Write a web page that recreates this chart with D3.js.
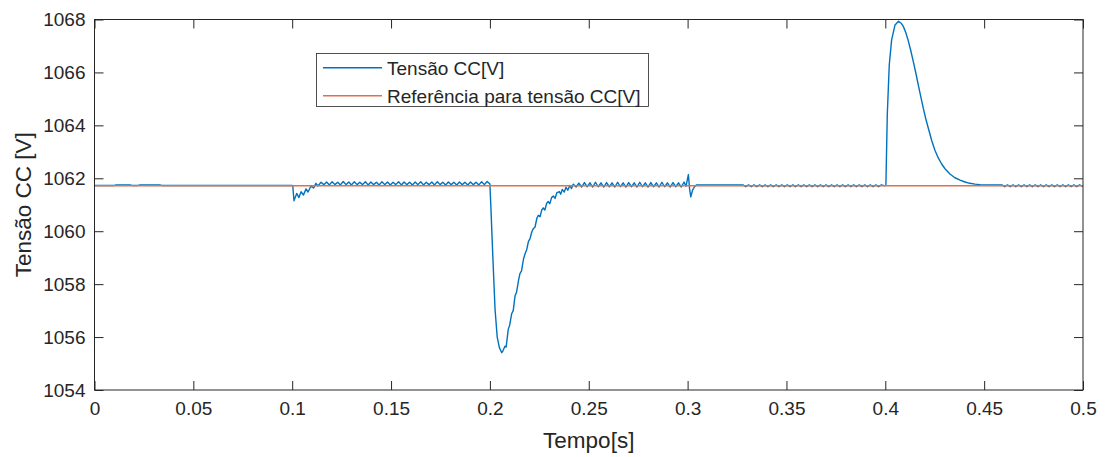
<!DOCTYPE html>
<html lang="pt">
<head>
<meta charset="UTF-8">
<title>Tensão CC</title>
<script src="https://d3js.org/d3.v7.min.js"></script>
<style>
  body { margin: 0; background: #fff; }
  text { font-family: "Liberation Sans", Arial, sans-serif; fill: #262626; }
</style>
</head>
<body>
<svg id="grafico" width="1107" height="457"></svg>
<script>
// eixos
const xTicks = [0, 0.05, 0.1, 0.15, 0.2, 0.25, 0.3, 0.35, 0.4, 0.45, 0.5];
const yTicks = [1054, 1056, 1058, 1060, 1062, 1064, 1066, 1068];

// referencia (constante)
const referencia = [[0, 1061.72], [0.5, 1061.72]];

// tensao CC medida, por trechos [tempo, tensao]
const trecho0 = [[0, 1061.73], [0.010, 1061.73], [0.011, 1061.745], [0.018, 1061.745], [0.019, 1061.73],
  [0.022, 1061.73], [0.023, 1061.745], [0.033, 1061.745], [0.034, 1061.73], [0.1, 1061.73]];

const trecho1 = [[0.1000, 1061.73], [0.1003, 1061.70], [0.1009, 1061.15], [0.1023, 1061.43], [0.1034, 1061.27],
  [0.1045, 1061.49], [0.1057, 1061.37], [0.1070, 1061.60], [0.1080, 1061.48], [0.1095, 1061.71],
  [0.1108, 1061.63], [0.1120, 1061.81], [0.1130, 1061.71], [0.1146, 1061.85],
  [0.1160, 1061.76], [0.1174, 1061.86], [0.1188, 1061.75], [0.1202, 1061.87], [0.1216, 1061.76],
  [0.1230, 1061.85], [0.1244, 1061.75], [0.1258, 1061.88], [0.1272, 1061.76], [0.1286, 1061.86],
  [0.1300, 1061.75], [0.1314, 1061.87], [0.1328, 1061.76], [0.1342, 1061.85], [0.1356, 1061.76],
  [0.1370, 1061.87], [0.1384, 1061.75], [0.1398, 1061.86], [0.1412, 1061.76], [0.1426, 1061.85],
  [0.1440, 1061.75], [0.1454, 1061.87], [0.1468, 1061.76], [0.1482, 1061.86], [0.1496, 1061.75],
  [0.1510, 1061.85], [0.1524, 1061.76], [0.1538, 1061.87], [0.1552, 1061.75], [0.1566, 1061.86],
  [0.1580, 1061.76], [0.1594, 1061.85], [0.1608, 1061.75], [0.1622, 1061.86], [0.1636, 1061.76],
  [0.1650, 1061.87], [0.1664, 1061.75], [0.1678, 1061.85], [0.1692, 1061.76], [0.1706, 1061.86],
  [0.1720, 1061.75], [0.1734, 1061.87], [0.1748, 1061.76], [0.1762, 1061.85], [0.1776, 1061.75],
  [0.1790, 1061.86], [0.1804, 1061.76], [0.1818, 1061.85], [0.1832, 1061.75], [0.1846, 1061.86],
  [0.1860, 1061.76], [0.1874, 1061.85], [0.1888, 1061.75], [0.1902, 1061.86], [0.1916, 1061.76],
  [0.1930, 1061.85], [0.1944, 1061.75], [0.1958, 1061.87], [0.1972, 1061.76], [0.1986, 1061.88],
  [0.2000, 1061.78]];

const trecho2 = [[0.2005, 1060.90], [0.2014, 1059.20], [0.2026, 1057.05], [0.2037, 1056.00], [0.2048, 1055.60],
  [0.2060, 1055.41], [0.2066, 1055.48], [0.2076, 1055.65], [0.2082, 1055.62], [0.2093, 1056.30],
  [0.2100, 1056.45], [0.2110, 1056.88], [0.2118, 1057.00], [0.2127, 1057.55], [0.2135, 1057.70],
  [0.2145, 1058.15], [0.2152, 1058.40], [0.2160, 1058.50], [0.2170, 1058.95], [0.2178, 1059.15],
  [0.2186, 1059.30], [0.2195, 1059.62], [0.2203, 1059.72], [0.2212, 1059.98], [0.2220, 1060.10],
  [0.2228, 1060.15], [0.2238, 1060.50], [0.2245, 1060.60], [0.2254, 1060.55], [0.2262, 1060.80],
  [0.2270, 1060.88], [0.2278, 1060.80], [0.2287, 1061.05], [0.2295, 1061.12], [0.2303, 1061.04],
  [0.2312, 1061.27], [0.2321, 1061.33], [0.2330, 1061.24], [0.2338, 1061.45], [0.2351, 1061.50],
  [0.2358, 1061.40], [0.2366, 1061.58], [0.2376, 1061.48], [0.2385, 1061.66], [0.2394, 1061.55],
  [0.2404, 1061.73], [0.2413, 1061.61], [0.2422, 1061.78]];

const trecho3 = [[0.2436, 1061.67], [0.2450, 1061.82], [0.2464, 1061.67], [0.2478, 1061.84], [0.2492, 1061.68],
  [0.2506, 1061.83], [0.2520, 1061.67], [0.2534, 1061.85], [0.2548, 1061.68], [0.2562, 1061.83],
  [0.2576, 1061.67], [0.2590, 1061.84], [0.2604, 1061.68], [0.2618, 1061.83], [0.2632, 1061.67],
  [0.2646, 1061.85], [0.2660, 1061.68], [0.2674, 1061.83], [0.2688, 1061.67], [0.2702, 1061.84],
  [0.2716, 1061.68], [0.2730, 1061.83], [0.2744, 1061.67], [0.2758, 1061.85], [0.2772, 1061.68],
  [0.2786, 1061.83], [0.2800, 1061.67], [0.2814, 1061.84], [0.2828, 1061.68], [0.2842, 1061.83],
  [0.2856, 1061.67], [0.2870, 1061.85], [0.2884, 1061.68], [0.2898, 1061.83], [0.2912, 1061.67],
  [0.2926, 1061.84], [0.2940, 1061.68], [0.2954, 1061.83], [0.2968, 1061.67], [0.2982, 1061.86],
  [0.2992, 1061.70], [0.3004, 1062.14], [0.3010, 1061.60], [0.3016, 1061.30], [0.3025, 1061.55],
  [0.3035, 1061.68], [0.3046, 1061.75], [0.3280, 1061.75]];

const trecho4 = [[0.3294, 1061.68], [0.3308, 1061.75], [0.3322, 1061.68], [0.3336, 1061.75], [0.3350, 1061.68],
  [0.3364, 1061.75], [0.3378, 1061.68], [0.3392, 1061.75], [0.3406, 1061.68], [0.3420, 1061.75],
  [0.3434, 1061.68], [0.3448, 1061.75], [0.3462, 1061.68], [0.3476, 1061.75], [0.3490, 1061.68],
  [0.3504, 1061.75], [0.3518, 1061.68], [0.3532, 1061.75], [0.3546, 1061.68], [0.3560, 1061.75],
  [0.3574, 1061.68], [0.3588, 1061.75], [0.3602, 1061.68], [0.3616, 1061.75], [0.3630, 1061.68],
  [0.3644, 1061.75], [0.3658, 1061.68], [0.3672, 1061.75], [0.3686, 1061.68], [0.3700, 1061.75],
  [0.3714, 1061.68], [0.3728, 1061.75], [0.3742, 1061.68], [0.3756, 1061.75], [0.3770, 1061.68],
  [0.3784, 1061.75], [0.3798, 1061.68], [0.3812, 1061.75], [0.3826, 1061.68], [0.3840, 1061.75],
  [0.3854, 1061.68], [0.3868, 1061.75], [0.3882, 1061.68], [0.3896, 1061.75], [0.3910, 1061.68],
  [0.3924, 1061.75], [0.3938, 1061.68], [0.3952, 1061.75], [0.3966, 1061.68], [0.3980, 1061.75],
  [0.3994, 1061.72]];

const trecho5 = [[0.4003, 1061.73], [0.4010, 1064.39], [0.4020, 1066.28], [0.4032, 1067.23], [0.4049, 1067.79],
  [0.4067, 1067.93], [0.4080, 1067.86], [0.4091, 1067.74], [0.4104, 1067.50], [0.4116, 1067.20],
  [0.4129, 1066.82], [0.4142, 1066.40], [0.4155, 1065.96], [0.4167, 1065.52], [0.4180, 1065.07],
  [0.4192, 1064.65], [0.4205, 1064.24], [0.4218, 1063.88], [0.4235, 1063.42], [0.4251, 1063.06],
  [0.4268, 1062.77], [0.4285, 1062.54], [0.4302, 1062.36], [0.4327, 1062.16], [0.4352, 1062.02],
  [0.4378, 1061.93], [0.4403, 1061.86], [0.4428, 1061.81], [0.4454, 1061.78], [0.4479, 1061.76],
  [0.4520, 1061.75], [0.4590, 1061.75]];

const trecho6 = [[0.4604, 1061.68], [0.4618, 1061.75], [0.4632, 1061.68], [0.4646, 1061.75], [0.4660, 1061.68],
  [0.4674, 1061.75], [0.4688, 1061.68], [0.4702, 1061.75], [0.4716, 1061.68], [0.4730, 1061.75],
  [0.4744, 1061.68], [0.4758, 1061.75], [0.4772, 1061.68], [0.4786, 1061.75], [0.4800, 1061.68],
  [0.4814, 1061.75], [0.4828, 1061.68], [0.4842, 1061.75], [0.4856, 1061.68], [0.4870, 1061.75],
  [0.4884, 1061.68], [0.4898, 1061.75], [0.4912, 1061.68], [0.4926, 1061.75], [0.4940, 1061.68],
  [0.4954, 1061.75], [0.4968, 1061.68], [0.4982, 1061.75], [0.4996, 1061.70], [0.5, 1061.72]];

const tensaoCC = [].concat(trecho0, trecho1, trecho2, trecho3, trecho4, trecho5, trecho6);

const svg = d3.select("#grafico");
const box = {left: 94.5, top: 19.5, right: 1083, bottom: 390};
const corEixo = "#262626";

const x = d3.scaleLinear().domain([0, 0.5]).range([box.left, box.right]);
const y = d3.scaleLinear().domain([1054, 1068]).range([box.bottom, box.top]);

svg.append("rect")
  .attr("x", box.left).attr("y", box.top)
  .attr("width", box.right - box.left).attr("height", box.bottom - box.top)
  .attr("fill", "#fff");

const linha = d3.line().x(d => x(d[0])).y(d => y(d[1]));

const plot = svg.append("g");
plot.append("path")
  .datum(tensaoCC)
  .attr("d", linha)
  .attr("fill", "none")
  .attr("stroke", "#0072BD")
  .attr("stroke-width", 1.4)
  .attr("stroke-linejoin", "round");

plot.append("path")
  .datum(referencia)
  .attr("d", linha)
  .attr("fill", "none")
  .attr("stroke", "#E0704A")
  .attr("stroke-width", 1.4);

// eixos com marcas para dentro
const tk = 9;
svg.append("g")
  .attr("transform", `translate(0,${box.bottom})`)
  .call(d3.axisBottom(x).tickValues(xTicks).tickSize(-tk).tickPadding(12).tickFormat(d => String(d)));
svg.append("g")
  .attr("transform", `translate(0,${box.top})`)
  .call(d3.axisTop(x).tickValues(xTicks).tickSize(-tk).tickFormat(""));
svg.append("g")
  .attr("transform", `translate(${box.left},0)`)
  .call(d3.axisLeft(y).tickValues(yTicks).tickSize(-tk).tickPadding(9).tickFormat(d => String(d)));
svg.append("g")
  .attr("transform", `translate(${box.right},0)`)
  .call(d3.axisRight(y).tickValues(yTicks).tickSize(-tk).tickFormat(""));

svg.selectAll(".domain").remove();
svg.selectAll(".tick line").attr("stroke", corEixo).attr("stroke-width", 1);
svg.selectAll(".tick text").attr("fill", corEixo).style("font-size", "19px")
  .style("font-family", '"Liberation Sans", Arial, sans-serif');

svg.append("rect")
  .attr("x", box.left).attr("y", box.top)
  .attr("width", box.right - box.left).attr("height", box.bottom - box.top)
  .attr("fill", "none").attr("stroke", corEixo).attr("stroke-width", 1);

// rotulos
svg.append("text")
  .attr("x", (box.left + box.right) / 2).attr("y", 448)
  .attr("text-anchor", "middle").style("font-size", "22.5px")
  .text("Tempo[s]");
svg.append("text")
  .attr("transform", `translate(31,${(box.top + box.bottom) / 2}) rotate(-90)`)
  .attr("text-anchor", "middle").style("font-size", "22.5px")
  .text("Tensão CC [V]");

// legenda
const legenda = svg.append("g");
legenda.append("rect")
  .attr("x", 316.5).attr("y", 53.5).attr("width", 332).attr("height", 53)
  .attr("fill", "#fff").attr("stroke", corEixo).attr("stroke-width", 0.8);
const itens = [{nome: "Tensão CC[V]", cor: "#0072BD"}, {nome: "Referência para tensão CC[V]", cor: "#E0704A"}];
itens.forEach((it, i) => {
  const yy = 67.7 + i * 28;
  legenda.append("line")
    .attr("x1", 323).attr("x2", 382).attr("y1", yy).attr("y2", yy)
    .attr("stroke", it.cor).attr("stroke-width", 1.4);
  legenda.append("text")
    .attr("x", 387).attr("y", yy).attr("dy", "0.36em")
    .style("font-size", "19px")
    .text(it.nome);
});
</script>
</body>
</html>
